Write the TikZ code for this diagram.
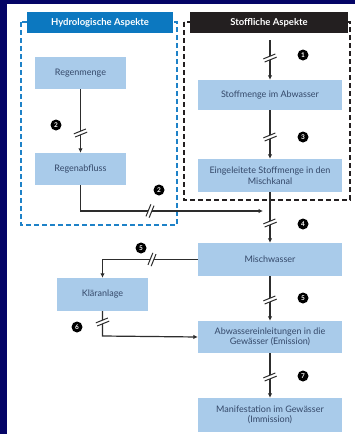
\documentclass[tikz,border=0pt]{standalone}
\usepackage{fontspec}
\setmainfont{Lato}
\usetikzlibrary{arrows.meta}
\definecolor{navy}{RGB}{4,4,102}
\definecolor{boxfill}{RGB}{169,203,234}
\definecolor{boxtext}{RGB}{52,72,105}
\definecolor{hblue}{RGB}{12,120,192}
\definecolor{sblack}{RGB}{35,31,32}
\definecolor{dblue}{RGB}{30,130,200}
\definecolor{linec}{RGB}{45,45,45}
\tikzset{
  box/.style={rectangle, fill=boxfill, draw=none, text=boxtext, font=\fontsize{9}{10.5}\selectfont, align=center, inner sep=0pt},
  headbox/.style={rectangle, draw=none, text=white, font=\fontsize{9.5}{11}\selectfont\bfseries, inner sep=0pt, minimum height=21},
  conn/.style={draw=linec, line width=1.2pt},
  arr/.style={conn, -{Latex[length=4.5pt,width=4.5pt]}},
  num/.style={circle, fill=black, text=white, font=\fontsize{6.5}{7}\selectfont\bfseries, inner sep=0pt, minimum size=11},
  brk/.pic={\fill[white] (-6.5,-1.7) rectangle (6.5,1.7);
            \draw[linec, line width=1pt] (-6.5,-1.7)--(6.5,-1.7) (-6.5,1.7)--(6.5,1.7);},
  dashb/.style={line width=1.6pt, dash pattern=on 5pt off 3pt}
}
\begin{document}
\begin{tikzpicture}[x=1pt,y=-1pt]
\useasboundingbox (0,0) rectangle (355,434);
\fill[navy] (0,0) rectangle (355,434);
\fill[white] (7,4) rectangle (355,434);

% dashed groups
\draw[dashb, draw=dblue] (21,22) rectangle (177,225);
\draw[dashb, draw=sblack] (184,22) rectangle (350,200);

% headers
\node[headbox, fill=hblue, minimum width=146] (hhead) at (100,22.5) {Hydrologische Aspekte};
\node[headbox, fill=sblack, minimum width=158] (shead) at (269,22.5) {Stoffliche Aspekte};

% boxes
\node[box, minimum width=91, minimum height=32] (regen) at (80.5,73) {Regenmenge};
\node[box, minimum width=91, minimum height=32] (abfl) at (80.5,169) {Regenabfluss};
\node[box, minimum width=144, minimum height=30] (stoff) at (270,95) {Stoffmenge im Abwasser};
\node[box, minimum width=144, minimum height=33] (eing) at (270,175.5) {Eingeleitete Stoffmenge in den\\Mischkanal};
\node[box, minimum width=144, minimum height=33] (misch) at (270,259.5) {Mischwasser};
\node[box, minimum width=91, minimum height=33] (klaer) at (102.5,294.5) {Kläranlage};
\node[box, minimum width=144, minimum height=32] (abw) at (270,337) {Abwassereinleitungen in die\\Gewässer (Emission)};
\node[box, minimum width=144, minimum height=34] (mani) at (270,415) {Manifestation im Gewässer\\(Immission)};

% connector coordinates
\coordinate (stoffin) at (270,40);
\coordinate (regcorner) at (80.5,211);
\coordinate (regend) at (263,211);
\coordinate (klcorner) at (102.5,259.5);
\coordinate (abwcorner) at (102.5,336);

% connectors
\draw[arr] (regen) -- (abfl);
\draw[arr] (stoffin) -- (stoff);
\draw[arr] (stoff) -- (eing);
\draw[arr] (eing) -- (misch);
\draw[arr] (misch) -- (abw);
\draw[arr] (abw) -- (mani);
\draw[arr] (abfl.south) -- (regcorner) -- (regend);
\draw[arr] (misch.west) -- (klcorner) -- (klaer.north);
\draw[arr] (klaer.south) -- (abwcorner) -- (abw.west);

% break marks
\pic[rotate=22] at (80.5,133) {brk};
\pic[rotate=22] at (270,58) {brk};
\pic[rotate=22] at (270,137) {brk};
\pic[rotate=22] at (270,223) {brk};
\pic[rotate=22] at (270,300) {brk};
\pic[rotate=22] at (270,377) {brk};
\pic[rotate=22] at (102.5,322) {brk};
\pic[rotate=68] at (150,211) {brk};
\pic[rotate=68] at (152,259.5) {brk};

% numbers
\node[num] (n2a) at (56,125) {2};
\node[num] (n1) at (303,55) {1};
\node[num] (n3) at (303,137) {3};
\node[num] (n2b) at (159,190) {2};
\node[num] (n4) at (303,224) {4};
\node[num] (n5a) at (141,248) {5};
\node[num] (n5b) at (303,298) {5};
\node[num] (n6) at (77,327) {6};
\node[num] (n7) at (303,376) {7};
\end{tikzpicture}
\end{document}
